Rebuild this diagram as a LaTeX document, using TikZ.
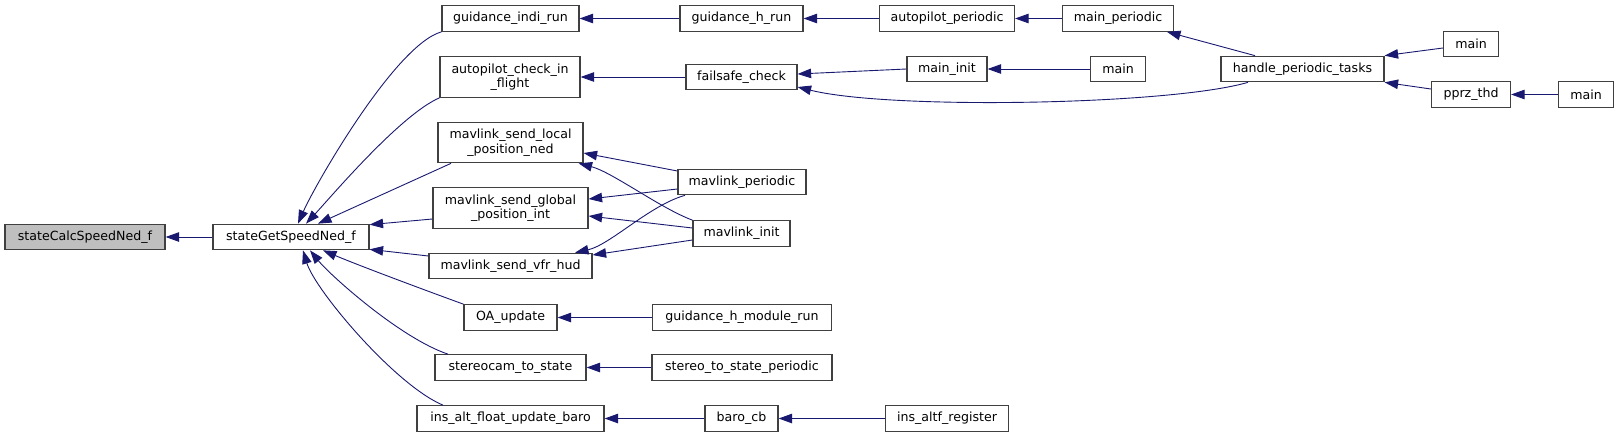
\documentclass[tikz,border=0pt]{standalone}
\usepackage{fontspec}
\setmainfont{DejaVu Sans}
\usetikzlibrary{arrows.meta}
\definecolor{edgec}{HTML}{191970}
\definecolor{boxc}{HTML}{404040}
\definecolor{hl}{HTML}{BFBFBF}
\tikzset{
  fn/.style={draw=boxc, line width=1.2pt, inner sep=0pt, text=black, fill=white,
    font=\fontsize{12.6}{14.5}\selectfont, align=center, minimum height=25.5pt},
  fntwo/.style={fn, minimum height=40.5pt},
  call/.style={draw=edgec, line width=0.9pt, -{Triangle[length=13.5pt,width=9.5pt]}},
}
\begin{document}
\begin{tikzpicture}[x=1pt,y=-1pt]
\useasboundingbox (0,0) rectangle (1619,437);
% column 0/1
\node[fn, fill=hl, minimum width=160pt] (n0) at (85,237) {stateCalcSpeedNed\_f};
\node[fn, minimum width=156pt] (n1) at (291,237) {stateGetSpeedNed\_f};
% column 2
\node[fn, minimum width=137pt] (g1) at (510.5,18.5) {guidance\_indi\_run};
\node[fntwo, minimum width=140pt] (a1) at (510,77) {autopilot\_check\_in\\\_flight};
\node[fntwo, minimum width=145pt] (ml) at (510.5,142.5) {mavlink\_send\_local\\\_position\_ned};
\node[fntwo, minimum width=155pt] (mg) at (510.5,208) {mavlink\_send\_global\\\_position\_int};
\node[fn, minimum width=163pt] (mv) at (510.5,266) {mavlink\_send\_vfr\_hud};
\node[fn, minimum width=93pt] (oa) at (510.5,317.5) {OA\_update};
\node[fn, minimum width=151pt] (sc) at (510.5,367.5) {stereocam\_to\_state};
\node[fn, minimum width=187pt] (ia) at (510.5,418.5) {ins\_alt\_float\_update\_baro};
% column 3
\node[fn, minimum width=123pt] (gh) at (741.5,18.5) {guidance\_h\_run};
\node[fn, minimum width=111pt] (fc) at (741.5,77) {failsafe\_check};
\node[fn, minimum width=128pt] (mp) at (742,182) {mavlink\_periodic};
\node[fn, minimum width=97pt] (mi) at (741.5,233.5) {mavlink\_init};
\node[fn, minimum width=179pt] (gm) at (742,317.5) {guidance\_h\_module\_run};
\node[fn, minimum width=180pt] (ss) at (742,367.5) {stereo\_to\_state\_periodic};
\node[fn, minimum width=73pt] (bc) at (741.5,418.5) {baro\_cb};
% column 4
\node[fn, minimum width=135pt] (ap) at (947,18.5) {autopilot\_periodic};
\node[fn, minimum width=80pt] (mn) at (947,69) {main\_init};
\node[fn, minimum width=123pt] (ir) at (947,418.5) {ins\_altf\_register};
% column 5
\node[fn, minimum width=111pt] (mp2) at (1118,18.5) {main\_periodic};
\node[fn, minimum width=55pt] (m1) at (1118,69) {main};
% column 6
\node[fn, minimum width=163pt] (hp) at (1302.5,69) {handle\_periodic\_tasks};
% column 7/8
\node[fn, minimum width=55pt] (m2) at (1471,44) {main};
\node[fn, minimum width=79pt] (pt) at (1471,94.5) {pprz\_thd};
\node[fn, minimum width=55pt] (m3) at (1586,94.5) {main};

% edges into stateCalcSpeedNed_f / stateGetSpeedNed_f
\draw[call] (n1.west) -- (n0.east);
\draw[call] (g1.south west) .. controls (395,45) and (315,185) .. ([xshift=7pt]n1.north);
\draw[call] (a1.south west) .. controls (400,115) and (330,198) .. ([xshift=15pt]n1.north);
\draw[call] ([xshift=-59.5pt]ml.south) -- ([xshift=27pt]n1.north);
\draw[call] ([yshift=-11pt]mg.west) -- ([yshift=-1pt]n1.north east);
\draw[call] ([yshift=10pt]mv.west) -- ([yshift=1pt]n1.south east);
\draw[call] (oa.north west) .. controls (430,292) and (360,266) .. ([xshift=32pt]n1.south);
\draw[call] ([xshift=-62.5pt]sc.north) .. controls (400,338) and (330,275) .. ([xshift=19pt]n1.south);
\draw[call] ([xshift=-67.5pt]ia.north) .. controls (395,385) and (315,290) .. ([xshift=12pt]n1.south);

% top chain
\draw[call] (gh.west) -- (g1.east);
\draw[call] (ap.west) -- (gh.east);
\draw[call] (mp2.west) -- (ap.east);
\draw[call] ([xshift=-47.5pt]hp.north) -- ([xshift=49pt]mp2.south);
\draw[call] (fc.west) -- (a1.east);
\draw[call] (mn.west) -- ([yshift=3pt]fc.east);
\draw[call] (m1.west) -- (mn.east);
\draw[call] ([xshift=-54.5pt]hp.south) .. controls (1170,105) and (890,110) .. ([yshift=-10pt]fc.east);
\draw[call] ([yshift=-4pt]m2.west) -- (hp.north east);
\draw[call] ([yshift=5.5pt]pt.west) -- (hp.south east);
\draw[call] (m3.west) -- (pt.east);

% mavlink
\draw[call] ([yshift=11pt]mp.west) -- ([yshift=-10.5pt]ml.east);
\draw[call] (mi.north west) .. controls (660,208) and (612,172) .. ([xshift=-5pt]ml.south east);
\draw[call] ([yshift=-7pt]mp.west) -- ([yshift=9pt]mg.east);
\draw[call] ([yshift=5.5pt]mi.west) -- ([yshift=-8pt]mg.east);
\draw[call] ([xshift=-57pt]mp.south) .. controls (650,205) and (610,245) .. ([xshift=64.5pt]mv.north);
\draw[call] ([yshift=-6.5pt]mi.west) -- ([yshift=11pt]mv.east);

% lower chains
\draw[call] (gm.west) -- (oa.east);
\draw[call] (ss.west) -- (sc.east);
\draw[call] (bc.west) -- (ia.east);
\draw[call] (ir.west) -- (bc.east);
\end{tikzpicture}
\end{document}
